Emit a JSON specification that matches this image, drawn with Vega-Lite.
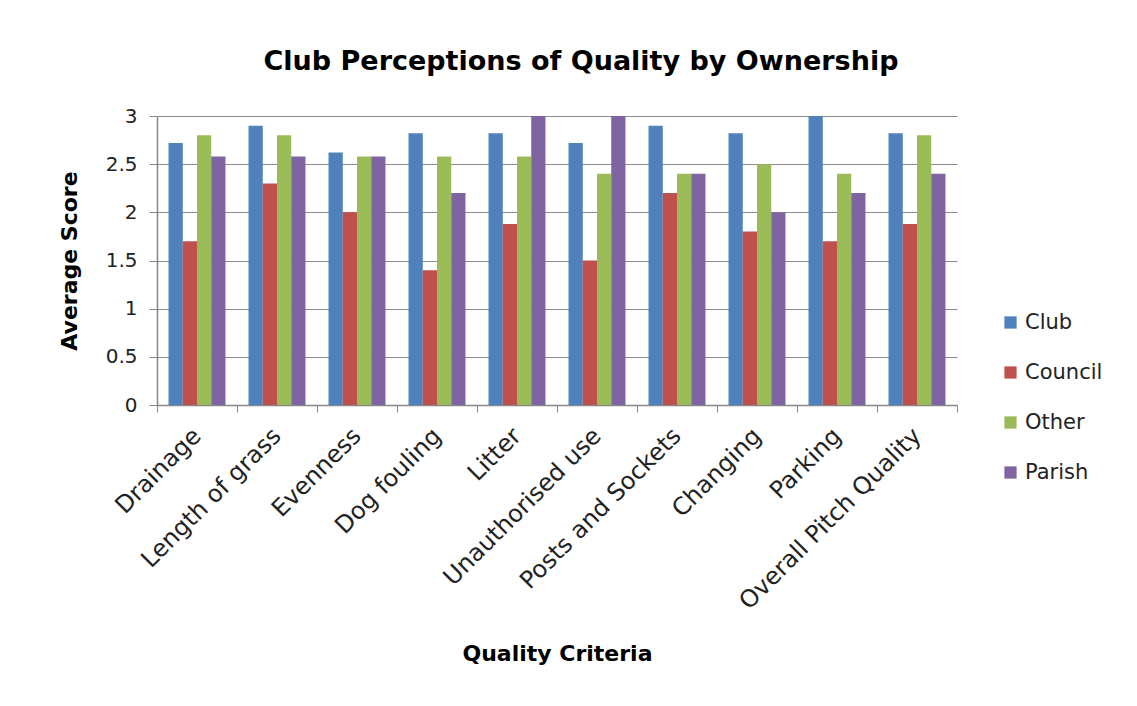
{
  "$schema": "https://vega.github.io/schema/vega-lite/v6.json",
  "width": 800,
  "height": 289,
  "autosize": {"type": "none"},
  "padding": {"left": 157, "top": 116, "right": 180, "bottom": 301},
  "background": "white",
  "title": {
    "text": "Club Perceptions of Quality by Ownership",
    "font": "DejaVu Sans",
    "fontSize": 27,
    "fontWeight": "bold",
    "color": "#000000",
    "anchor": "middle",
    "dx": 24,
    "offset": 30
  },
  "data": {
    "values": [
      {"criteria": "Drainage", "owner": "Club", "score": 2.72},
      {"criteria": "Drainage", "owner": "Council", "score": 1.7},
      {"criteria": "Drainage", "owner": "Other", "score": 2.8},
      {"criteria": "Drainage", "owner": "Parish", "score": 2.58},
      {"criteria": "Length of grass", "owner": "Club", "score": 2.9},
      {"criteria": "Length of grass", "owner": "Council", "score": 2.3},
      {"criteria": "Length of grass", "owner": "Other", "score": 2.8},
      {"criteria": "Length of grass", "owner": "Parish", "score": 2.58},
      {"criteria": "Evenness", "owner": "Club", "score": 2.62},
      {"criteria": "Evenness", "owner": "Council", "score": 2.0},
      {"criteria": "Evenness", "owner": "Other", "score": 2.58},
      {"criteria": "Evenness", "owner": "Parish", "score": 2.58},
      {"criteria": "Dog fouling", "owner": "Club", "score": 2.82},
      {"criteria": "Dog fouling", "owner": "Council", "score": 1.4},
      {"criteria": "Dog fouling", "owner": "Other", "score": 2.58},
      {"criteria": "Dog fouling", "owner": "Parish", "score": 2.2},
      {"criteria": "Litter", "owner": "Club", "score": 2.82},
      {"criteria": "Litter", "owner": "Council", "score": 1.88},
      {"criteria": "Litter", "owner": "Other", "score": 2.58},
      {"criteria": "Litter", "owner": "Parish", "score": 3.0},
      {"criteria": "Unauthorised use", "owner": "Club", "score": 2.72},
      {"criteria": "Unauthorised use", "owner": "Council", "score": 1.5},
      {"criteria": "Unauthorised use", "owner": "Other", "score": 2.4},
      {"criteria": "Unauthorised use", "owner": "Parish", "score": 3.0},
      {"criteria": "Posts and Sockets", "owner": "Club", "score": 2.9},
      {"criteria": "Posts and Sockets", "owner": "Council", "score": 2.2},
      {"criteria": "Posts and Sockets", "owner": "Other", "score": 2.4},
      {"criteria": "Posts and Sockets", "owner": "Parish", "score": 2.4},
      {"criteria": "Changing", "owner": "Club", "score": 2.82},
      {"criteria": "Changing", "owner": "Council", "score": 1.8},
      {"criteria": "Changing", "owner": "Other", "score": 2.5},
      {"criteria": "Changing", "owner": "Parish", "score": 2.0},
      {"criteria": "Parking", "owner": "Club", "score": 3.0},
      {"criteria": "Parking", "owner": "Council", "score": 1.7},
      {"criteria": "Parking", "owner": "Other", "score": 2.4},
      {"criteria": "Parking", "owner": "Parish", "score": 2.2},
      {"criteria": "Overall Pitch Quality", "owner": "Club", "score": 2.82},
      {"criteria": "Overall Pitch Quality", "owner": "Council", "score": 1.88},
      {"criteria": "Overall Pitch Quality", "owner": "Other", "score": 2.8},
      {"criteria": "Overall Pitch Quality", "owner": "Parish", "score": 2.4}
    ]
  },
  "mark": {"type": "bar"},
  "encoding": {
    "x": {
      "field": "criteria",
      "type": "nominal",
      "sort": null,
      "scale": {"paddingInner": 0, "paddingOuter": 0},
      "axis": {
        "title": "Quality Criteria",
        "titleFont": "DejaVu Sans",
        "titleFontSize": 22,
        "titleFontWeight": "bold",
        "titleColor": "#000000",
        "titlePadding": 38,
        "labelAngle": -45,
        "labelAlign": "right",
        "labelBaseline": "middle",
        "labelFont": "DejaVu Sans",
        "labelFontSize": 24,
        "labelColor": "#222222",
        "labelPadding": 20,
        "labelLimit": 400,
        "tickBand": "extent",
        "tickColor": "#888888",
        "tickSize": 7,
        "domainColor": "#888888",
        "domainWidth": 1.5,
        "grid": false
      }
    },
    "xOffset": {
      "field": "owner",
      "type": "nominal",
      "scale": {"paddingInner": 0, "paddingOuter": 0.81}
    },
    "y": {
      "field": "score",
      "type": "quantitative",
      "scale": {"domain": [0, 3]},
      "axis": {
        "title": "Average Score",
        "titleFont": "DejaVu Sans",
        "titleFontSize": 22,
        "titleFontWeight": "bold",
        "titleColor": "#000000",
        "titlePadding": 24,
        "values": [0, 0.5, 1, 1.5, 2, 2.5, 3],
        "format": "~g",
        "labelFont": "DejaVu Sans",
        "labelFontSize": 20,
        "labelColor": "#222222",
        "labelPadding": 12,
        "tickColor": "#888888",
        "tickSize": 8,
        "domainColor": "#888888",
        "domainWidth": 1.5,
        "gridColor": "#8c8c8c",
        "gridWidth": 1.2
      }
    },
    "color": {
      "field": "owner",
      "type": "nominal",
      "scale": {
        "domain": ["Club", "Council", "Other", "Parish"],
        "range": ["#4F81BD", "#C0504D", "#9BBB59", "#8064A2"]
      },
      "legend": {
        "title": null,
        "orient": "none",
        "legendX": 843,
        "legendY": 196,
        "symbolType": "square",
        "symbolSize": 150,
        "symbolStrokeWidth": 0,
        "labelFont": "DejaVu Sans",
        "labelFontSize": 21,
        "labelColor": "#222222",
        "labelOffset": 4,
        "rowPadding": 28
      }
    }
  },
  "config": {
    "view": {"stroke": null}
  }
}
